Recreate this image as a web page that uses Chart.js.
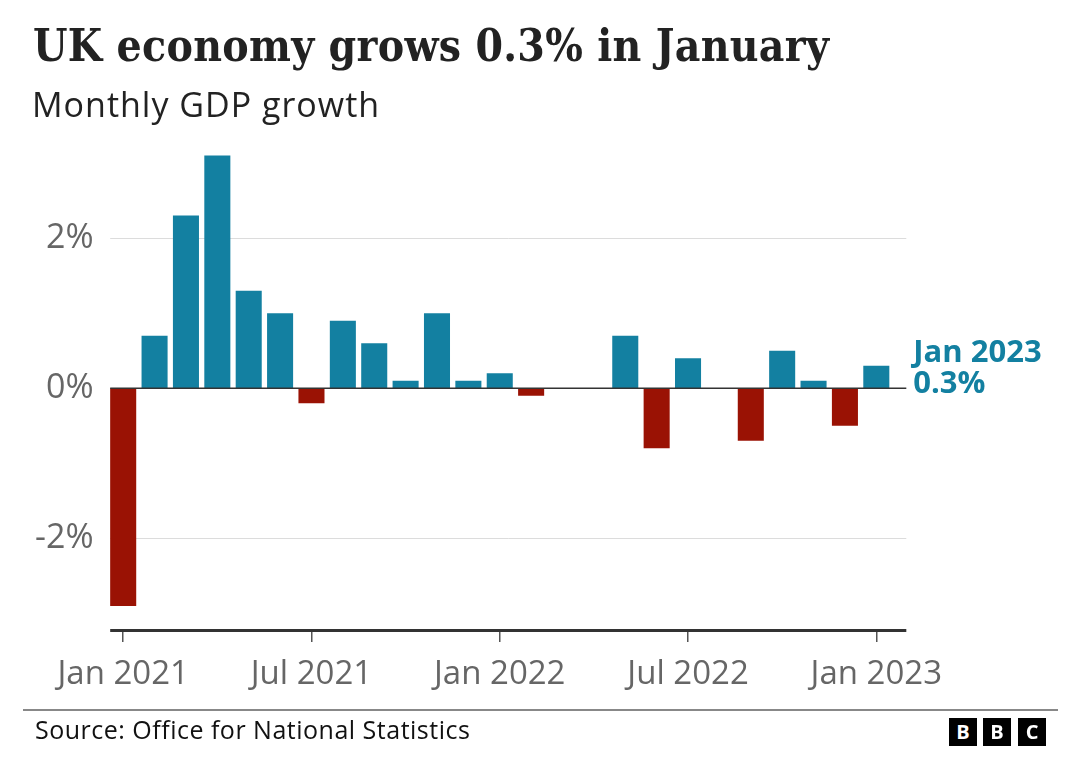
<!DOCTYPE html>
<html>
<head>
<meta charset="utf-8">
<script src="https://cdn.jsdelivr.net/npm/chart.js@4/dist/chart.umd.min.js"></script>
<style>
  html, body { margin: 0; padding: 0; background: #fff; }
  #wrap { position: relative; width: 1080px; height: 763px; overflow: hidden; }
  #chart { position: absolute; left: 0; top: 0; }
  .txt { position: absolute; white-space: nowrap; line-height: 1; }
  #title { left: 33px; top: 24px; font-family: 'DejaVu Serif Condensed', 'DejaVu Serif', serif; font-stretch: condensed; font-weight: bold; font-size: 44px; letter-spacing: 0.3px; color: #222; }
  #subtitle { left: 32px; top: 87px; font-family: 'Open Sans', sans-serif; font-size: 34px; letter-spacing: 1px; color: #222; }
  #rule { position: absolute; left: 23px; top: 709px; width: 1035px; height: 2px; background: #888; }
  #source { left: 35px; top: 717px; font-family: 'Open Sans', sans-serif; font-size: 25px; letter-spacing: 0.5px; color: #111; }
  .bbc { position: absolute; top: 718px; width: 28px; height: 28px; background: #000; color: #fff;
         font-family: 'Open Sans', sans-serif; font-weight: bold; font-size: 20px; line-height: 28px; text-align: center; }
</style>
</head>
<body>
<div id="wrap">
  <canvas id="chart" width="1080" height="763"></canvas>
  <div class="txt" id="title">UK economy grows 0.3% in January</div>
  <div class="txt" id="subtitle">Monthly GDP growth</div>
  <div id="rule"></div>
  <div class="txt" id="source">Source: Office for National Statistics</div>
  <div class="bbc" style="left:949px">B</div>
  <div class="bbc" style="left:983px">B</div>
  <div class="bbc" style="left:1018px">C</div>
</div>
<script>
const months = ['Jan 2021','Feb 2021','Mar 2021','Apr 2021','May 2021','Jun 2021','Jul 2021','Aug 2021','Sep 2021','Oct 2021','Nov 2021','Dec 2021',
                'Jan 2022','Feb 2022','Mar 2022','Apr 2022','May 2022','Jun 2022','Jul 2022','Aug 2022','Sep 2022','Oct 2022','Nov 2022','Dec 2022',
                'Jan 2023'];
const growth = [-2.9, 0.7, 2.3, 3.1, 1.3, 1.0, -0.2, 0.9, 0.6, 0.1, 1.0, 0.1,
                0.2, -0.1, 0.0, 0.0, 0.7, -0.8, 0.4, 0.0, -0.7, 0.5, 0.1, -0.5,
                0.3];
const xTickLabels = ['Jan 2021','Jul 2021','Jan 2022','Jul 2022','Jan 2023'];
const yTickValues = [-2, 0, 2];
const yGridValues = [-2, 2];

const BLUE = '#1380A1';
const RED = '#9A1204';
const SANS = "'Open Sans', sans-serif";

const linesPlugin = {
  id: 'bbcLines',
  beforeDatasetsDraw(chart) {
    const {ctx, scales: {x, y}} = chart;
    const left = x.getPixelForValue(0) - 13;
    const right = x.getPixelForValue(months.length - 1) + 30;
    ctx.save();
    ctx.strokeStyle = '#dcdcdc';
    ctx.lineWidth = 1;
    yGridValues.forEach(v => {
      const py = Math.round(y.getPixelForValue(v)) + 0.5;
      ctx.beginPath(); ctx.moveTo(left, py); ctx.lineTo(right, py); ctx.stroke();
    });
    ctx.restore();
  },
  afterDatasetsDraw(chart) {
    const {ctx, chartArea, scales: {x, y}} = chart;
    const left = x.getPixelForValue(0) - 13;
    const right = x.getPixelForValue(months.length - 1) + 30;
    ctx.save();
    ctx.strokeStyle = '#333';
    ctx.lineWidth = 1.5;
    const py0 = y.getPixelForValue(0);
    ctx.beginPath(); ctx.moveTo(left, py0); ctx.lineTo(right, py0); ctx.stroke();
    ctx.lineWidth = 3;
    const pb = chartArea.bottom + 0.5;
    ctx.beginPath(); ctx.moveTo(left, pb); ctx.lineTo(right, pb); ctx.stroke();
    const last = months.length - 1;
    const ax = x.getPixelForValue(last) + 37;
    ctx.fillStyle = BLUE;
    ctx.font = "bold 31px " + SANS;
    ctx.textAlign = 'left';
    ctx.textBaseline = 'alphabetic';
    ctx.fillText(months[last], ax, py0 - 26.5);
    ctx.fillText(growth[last].toFixed(1) + '%', ax, py0 + 4.5);
    ctx.restore();
  }
};

new Chart(document.getElementById('chart'), {
  type: 'bar',
  data: {
    labels: months,
    datasets: [{
      data: growth,
      backgroundColor: growth.map(v => v < 0 ? RED : BLUE),
      barPercentage: 1,
      categoryPercentage: 0.83,
      borderWidth: 0
    }]
  },
  options: {
    responsive: false,
    animation: false,
    events: [],
    layout: { padding: { top: 148, right: 188, bottom: 0, left: 0 } },
    plugins: { legend: { display: false }, tooltip: { enabled: false } },
    scales: {
      x: {
        grid: {
          display: true,
          drawOnChartArea: false,
          offset: false,
          tickLength: 12,
          lineWidth: 1.5,
          color: ctx => xTickLabels.includes(months[ctx.index]) ? '#555' : 'rgba(0,0,0,0)'
        },
        border: { display: false },
        ticks: {
          autoSkip: false,
          maxRotation: 0,
          minRotation: 0,
          padding: 13,
          color: '#666',
          font: { family: SANS, size: 33 },
          callback: (v, i) => xTickLabels.includes(months[i]) ? months[i] : ''
        },
        afterFit: s => { s.height = 133; }
      },
      y: {
        min: -3.22,
        max: 3.2,
        grid: { display: false },
        border: { display: false },
        afterBuildTicks: s => { s.ticks = yTickValues.map(v => ({ value: v })); },
        ticks: {
          padding: 6,
          color: '#666',
          font: { family: SANS, size: 34 },
          callback: v => v + '%'
        },
        afterFit: s => { s.width = 107.5; }
      }
    }
  },
  plugins: [linesPlugin]
});
</script>
</body>
</html>
